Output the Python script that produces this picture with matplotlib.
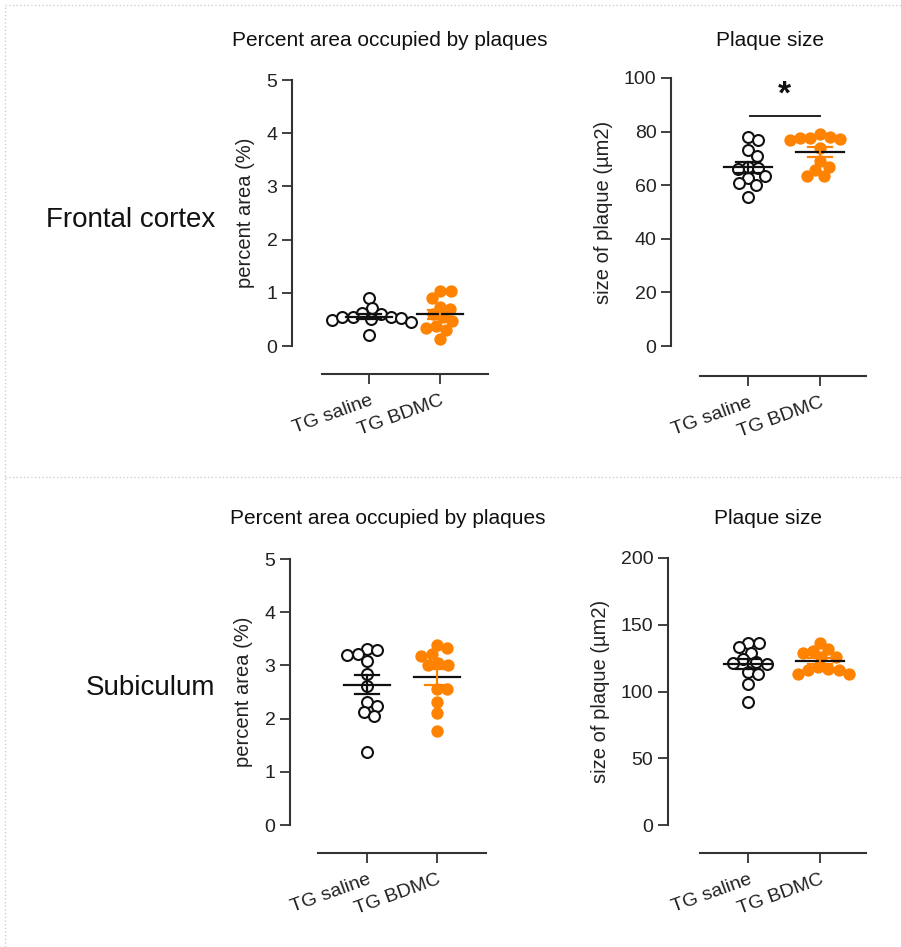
import numpy as np
import matplotlib
matplotlib.use("Agg")
import matplotlib.pyplot as plt
from matplotlib.lines import Line2D

plt.rcParams['font.family'] = ['Liberation Sans', 'DejaVu Sans']

groups = ['TG saline', 'TG BDMC']

# frontal cortex
fc_area_saline = [0.90, 0.71, 0.62, 0.60, 0.55, 0.55, 0.52, 0.50, 0.49, 0.46, 0.55, 0.20]
fc_area_bdmc = [1.04, 0.91, 1.04, 0.74, 0.69, 0.47, 0.54, 0.60, 0.34, 0.38, 0.31, 0.13]
fc_size_saline = [77.9, 76.9, 73.1, 70.9, 66.7, 66.6, 66.0, 62.6, 63.4, 60.1, 60.7, 55.7]
fc_size_bdmc = [79.1, 78.1, 77.5, 77.2, 76.9, 77.5, 74.0, 69.2, 66.9, 65.7, 63.4, 63.4]

# subiculum
sub_area_saline = [3.31, 3.29, 3.21, 3.20, 3.08, 2.84, 2.61, 2.32, 2.24, 2.13, 2.04, 1.37]
sub_area_bdmc = [3.38, 3.32, 3.21, 3.18, 3.05, 3.01, 3.01, 2.55, 2.55, 2.32, 2.10, 1.77]
sub_size_saline = [136.6, 136.6, 133.1, 129.1, 124.1, 122.3, 121.6, 120.4, 114.9, 113.1, 105.6, 91.9]
sub_size_bdmc = [136.6, 131.6, 130.6, 129.1, 126.1, 125.6, 118.1, 116.6, 116.1, 116.1, 113.1, 112.9]

titles = ['Percent area occupied by plaques', 'Plaque size']
ylabels = ['percent area (%)', 'size of plaque (µm2)']
regions = ['Frontal cortex', 'Subiculum']

ORANGE = '#FF8200'
W, H = 901, 947
PT = 72 / 100  # points per pixel
fig = plt.figure(figsize=(W / 100, H / 100), dpi=100)


def make_ax(left, right, top, bottom):
    return fig.add_axes([left / W, 1 - bottom / H, (right - left) / W, (bottom - top) / H])


def swarm(ax, x0, vals, d):
    # simple beeswarm in pixel space
    disp = ax.transData
    pts = [disp.transform((x0, v)) for v in vals]
    order = np.argsort(-np.array(vals))
    placed = []
    out = [None] * len(vals)
    for i in order:
        px, py = pts[i]
        cands = [0.0]
        for (qx, qy) in placed:
            dy = py - qy
            if abs(dy) < d:
                dx = np.sqrt(d * d - dy * dy)
                cands += [qx - px + dx, qx - px - dx]
        cands = sorted(cands, key=abs)
        for c in cands:
            ok = all((px + c - qx) ** 2 + (py - qy) ** 2 >= d * d - 1e-6 for (qx, qy) in placed)
            if ok:
                break
        placed.append((px + c, py))
        out[i] = disp.inverted().transform((px + c, py))[0]
    return np.array(out)


def panel(geom, a, b, ymax, ystep, ylabel, off_left, off_bottom):
    left, right, top, bottom, c0, c1 = geom
    ax = make_ax(left, right, top, bottom)
    sp = c1 - c0
    ax.set_xlim(-(c0 - left) / sp, 1 + (right - c1) / sp)
    ax.set_ylim(0, ymax)
    for s in ['top', 'right']:
        ax.spines[s].set_visible(False)
    ax.spines['left'].set_position(('outward', off_left * PT))
    ax.spines['bottom'].set_position(('outward', off_bottom * PT))
    for s in ['left', 'bottom']:
        ax.spines[s].set_linewidth(1.5)
        ax.spines[s].set_color('#333333')
    ax.set_yticks(np.arange(0, ymax + ystep / 2, ystep))
    ax.set_xticks([0, 1])
    ax.set_xticklabels(groups, rotation=20, ha='right', rotation_mode='anchor')
    ax.tick_params(axis='both', length=7, width=1.3, color='#333333', labelsize=14, labelcolor='#222222')
    ax.tick_params(axis='x', pad=6)
    ax.set_ylabel(ylabel, fontsize=14.5, color='#222222', labelpad=8)

    xa = swarm(ax, 0, a, 10.5)
    xb = swarm(ax, 1, b, 10.5)
    ax.scatter(xa, a, s=62, facecolor='white', edgecolor='#111111', linewidth=1.5, clip_on=False, zorder=3)
    ax.scatter(xb, b, s=62, facecolor=ORANGE, edgecolor=ORANGE, linewidth=1.0, clip_on=False, zorder=3)

    for i, (vals, col) in enumerate([(a, '#111111'), (b, ORANGE)]):
        v = np.array(vals)
        m = v.mean()
        se = v.std(ddof=1) / np.sqrt(len(v))
        ax.plot([i - 0.33, i + 0.33], [m, m], color='#111111', lw=1.6, zorder=5, clip_on=False)
        ax.plot([i, i], [m - se, m + se], color=col, lw=1.6, zorder=5)
        for e in (m - se, m + se):
            ax.plot([i - 0.17, i + 0.17], [e, e], color=col, lw=1.6, zorder=5)
    return ax


g1 = (322, 488, 80, 346, 369, 440)
g2 = (700, 866, 78, 346, 748, 820)
g3 = (318, 486, 559, 825, 367, 437)
g4 = (700, 866, 558, 825, 748, 820)

panel(g1, fc_area_saline, fc_area_bdmc, 5, 1, ylabels[0], 30, 28)
ax2 = panel(g2, fc_size_saline, fc_size_bdmc, 100, 20, ylabels[1], 29, 30)
panel(g3, sub_area_saline, sub_area_bdmc, 5, 1, ylabels[0], 28, 28)
panel(g4, sub_size_saline, sub_size_bdmc, 200, 50, ylabels[1], 32, 28)

# significance bar
ax2.plot([0.03, 1.0], [86.0, 86.0], color='#222222', lw=1.4, clip_on=False)
ax2.text(0.5, 88.0, '*', ha='center', va='bottom', fontsize=24, fontweight='bold', color='#111111')

# titles and row labels
fig.text(390 / W, 1 - 40 / H, titles[0], ha='center', va='center', fontsize=15, color='#111111')
fig.text(770 / W, 1 - 40 / H, titles[1], ha='center', va='center', fontsize=15, color='#111111')
fig.text(388 / W, 1 - 519 / H, titles[0], ha='center', va='center', fontsize=15, color='#111111')
fig.text(768 / W, 1 - 519 / H, titles[1], ha='center', va='center', fontsize=15, color='#111111')
fig.text(215 / W, 1 - 220 / H, regions[0], ha='right', va='center', fontsize=20, color='#111111')
fig.text(215 / W, 1 - 688 / H, regions[1], ha='right', va='center', fontsize=20, color='#111111')

# dotted frame lines
fig.add_artist(Line2D([5 / W, 1], [1 - 5 / H, 1 - 5 / H], color='#cfcfcf', lw=1, ls=':'))
fig.add_artist(Line2D([5 / W, 5 / W], [0, 1 - 5 / H], color='#cfcfcf', lw=1, ls=':'))
fig.add_artist(Line2D([5 / W, 1], [1 - 477 / H, 1 - 477 / H], color='#cfcfcf', lw=1, ls=':'))

fig.savefig('out.png', dpi=100)
